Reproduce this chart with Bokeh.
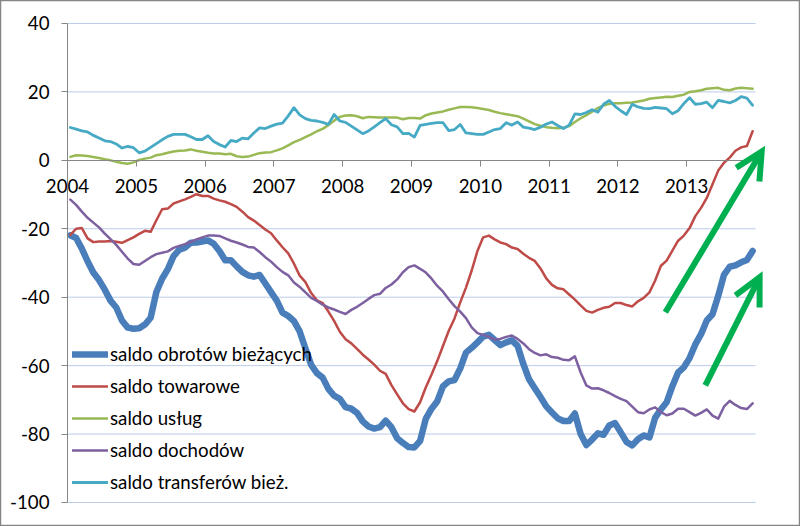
import numpy as np
from bokeh.plotting import figure
from bokeh.models import (Range1d, LinearAxis, FixedTicker, Legend, LegendItem,
                          Arrow, OpenHead, ColumnDataSource)
from bokeh.embed import file_html
from bokeh.resources import INLINE

# ---------------- data ----------------
first_year = 2004
n_months = 120
year_ticks = [2004, 2005, 2006, 2007, 2008, 2009, 2010, 2011, 2012, 2013]
y_ticks = [-100, -80, -60, -40, -20, 0, 20, 40]

saldo_obrotow_biezacych = [
    -21.9, -22.7, -25.8, -29.5, -32.8, -35.0, -37.8, -41.0, -43.0, -46.8, -48.9, -49.2,
    -49.1, -48.0, -46.0, -38.5, -34.6, -31.8, -28.0, -26.1, -25.5, -24.1, -24.0, -23.7,
    -23.4, -24.4, -26.5, -29.2, -29.2, -31.0, -32.6, -33.6, -34.0, -33.5, -36.0, -38.5,
    -41.0, -44.5, -45.5, -47.0, -50.0, -55.0, -59.8, -62.2, -63.5, -66.8, -68.8, -69.7,
    -72.1, -72.6, -73.8, -76.3, -77.8, -78.4, -78.0, -76.1, -78.0, -81.2, -82.6, -83.8,
    -83.9, -82.0, -75.5, -72.6, -70.4, -66.0, -64.6, -64.2, -60.8, -56.2, -54.8, -53.2,
    -51.5, -51.0, -52.5, -54.0, -53.2, -52.6, -54.2, -59.5, -64.0, -66.6, -69.2, -71.9,
    -73.7, -75.4, -76.2, -76.2, -74.0, -80.0, -83.2, -81.6, -79.8, -80.2, -77.5, -76.8,
    -79.5, -82.3, -83.3, -81.5, -80.4, -81.0, -75.2, -72.8, -70.7, -66.0, -62.0, -60.5,
    -57.8, -53.8, -50.8, -46.8, -45.0, -39.6, -33.5, -31.1, -30.7, -29.8, -29.1, -26.5,
]

saldo_towarowe = [
    -21.8, -20.0, -19.8, -22.8, -23.9, -23.7, -23.7, -23.6, -23.8, -24.1, -23.3, -22.5,
    -21.5, -20.6, -20.9, -17.5, -14.3, -14.1, -12.6, -12.0, -11.4, -10.7, -9.9, -10.4,
    -10.4, -11.2, -11.7, -12.1, -12.8, -13.6, -15.0, -16.6, -17.6, -18.9, -20.2, -21.3,
    -23.4, -25.4, -27.2, -30.2, -33.7, -35.6, -38.8, -40.9, -41.7, -44.2, -46.9, -50.1,
    -52.3, -53.5, -55.1, -56.8, -58.2, -59.7, -61.5, -62.4, -65.7, -68.4, -71.0, -72.7,
    -73.4, -70.7, -66.3, -62.6, -58.6, -54.2, -49.8, -46.2, -41.5, -37.2, -32.2, -26.5,
    -22.5, -22.0, -23.1, -24.0, -24.5, -25.5, -25.9, -27.3, -28.5, -29.4, -31.6, -34.5,
    -36.4, -37.4, -37.7, -39.2, -40.7, -42.4, -44.0, -44.5, -43.7, -43.1, -42.8, -41.7,
    -41.7, -42.3, -42.7, -41.2, -40.2, -38.6, -35.1, -30.8, -29.3, -26.4, -23.5, -22.0,
    -19.8, -16.3, -13.9, -11.0, -7.0, -3.0, -0.7, 0.8, 2.8, 3.8, 4.2, 8.5,
]

saldo_uslug = [
    1.0, 1.5, 1.4, 1.3, 1.0, 0.7, 0.3, 0.0, -0.4, -0.8, -1.0, -0.6,
    0.1, 0.5, 0.8, 1.5, 1.8, 2.2, 2.6, 2.8, 2.9, 3.2, 2.8, 2.5,
    2.2, 2.0, 2.0, 1.8, 1.9, 1.2, 1.0, 1.1, 1.6, 2.1, 2.3, 2.4,
    2.9, 3.5, 4.4, 5.3, 6.0, 6.8, 7.6, 8.5, 9.2, 10.3, 11.6, 12.7,
    13.1, 13.2, 12.9, 12.3, 12.7, 12.6, 12.5, 12.5, 12.5, 12.5, 12.0, 12.4,
    12.4, 12.2, 13.2, 13.7, 14.0, 14.3, 14.8, 15.2, 15.6, 15.6, 15.5, 15.3,
    15.0, 14.7, 14.2, 13.8, 13.5, 13.2, 12.9, 12.2, 11.4, 10.6, 10.1, 9.7,
    9.5, 9.4, 9.5, 10.0, 11.2, 12.3, 13.2, 14.2, 15.3, 16.0, 16.5, 16.7,
    16.7, 16.8, 16.9, 17.2, 17.5, 18.0, 18.2, 18.4, 18.6, 18.5, 18.9, 19.2,
    20.0, 20.2, 20.5, 20.9, 21.1, 21.2, 20.6, 20.5, 21.0, 21.2, 21.1, 20.9,
]

saldo_dochodow = [
    -11.5, -13.0, -15.0, -16.8, -18.2, -19.6, -21.4, -23.0, -24.7, -26.7, -28.7, -30.3,
    -30.5, -29.4, -28.3, -27.4, -27.0, -26.6, -25.6, -25.0, -24.5, -23.8, -23.1, -22.5,
    -22.0, -22.0, -22.1, -22.8, -23.5, -24.0, -24.6, -25.3, -25.5, -26.8, -28.3, -29.6,
    -31.2, -32.6, -33.6, -35.7, -37.0, -38.6, -40.2, -41.1, -42.2, -43.0, -43.6, -44.3,
    -44.9, -43.7, -42.8, -41.7, -40.5, -39.4, -39.0, -37.3, -36.3, -34.8, -32.7, -31.2,
    -30.7, -31.7, -32.8, -34.6, -36.7, -38.4, -40.6, -42.6, -44.2, -46.1, -48.8, -50.5,
    -51.0, -51.6, -52.4, -52.2, -51.6, -51.2, -52.2, -53.5, -55.2, -56.3, -57.0, -56.7,
    -57.5, -57.7, -58.3, -58.4, -57.3, -62.0, -65.8, -66.7, -66.6, -67.2, -68.0, -68.9,
    -69.7, -70.4, -72.0, -73.6, -73.9, -72.8, -72.2, -73.6, -74.5, -74.0, -72.6, -72.6,
    -73.6, -74.6, -73.8, -72.8, -74.6, -75.5, -72.0, -70.3, -71.5, -72.4, -72.7, -71.0,
]

saldo_transferow_biez = [
    9.6, 9.1, 8.6, 8.3, 7.3, 6.5, 5.7, 5.5, 4.8, 3.6, 4.1, 3.7,
    2.2, 2.7, 3.8, 4.9, 6.0, 7.0, 7.6, 7.6, 7.6, 6.9, 6.1, 6.1,
    7.2, 5.5, 4.6, 3.9, 5.8, 5.5, 6.5, 6.3, 8.0, 9.5, 9.3, 10.0,
    10.6, 10.9, 13.0, 15.4, 13.3, 12.2, 11.7, 11.5, 11.1, 10.5, 13.4, 11.5,
    11.1, 10.0, 8.9, 7.8, 8.6, 9.8, 11.0, 12.2, 10.4, 9.8, 7.8, 7.9,
    6.8, 10.2, 10.5, 10.8, 11.0, 11.0, 8.7, 9.0, 10.5, 8.0, 7.8, 7.6,
    7.6, 8.3, 9.0, 9.3, 11.0, 10.3, 11.2, 9.7, 9.4, 9.0, 9.7, 10.6,
    11.2, 10.2, 9.3, 10.3, 13.6, 13.4, 14.0, 14.8, 14.1, 16.4, 17.5, 15.8,
    14.5, 13.4, 16.4, 15.6, 15.2, 15.1, 15.5, 15.3, 15.1, 13.6, 14.5, 16.6,
    18.3, 16.4, 16.6, 17.0, 15.4, 17.5, 17.2, 16.8, 17.5, 18.6, 18.2, 16.1,
]

series_labels = ["saldo obrotów bieżących", "saldo towarowe", "saldo usług",
                 "saldo dochodów", "saldo transferów bież."]

# trend arrows (start x, start y, end x, end y) in data units
arrow_x_start = [2012.69, 2013.27]
arrow_y_start = [-44.4, -65.8]
arrow_x_end = [2014.09, 2014.06]
arrow_y_end = [2.6, -34.2]

# ---------------- styles ----------------
series_colors = ["#4A7EBB", "#BE4B48", "#98B954", "#7D60A0", "#46AAC5"]
series_widths = [6.5, 2.5, 2.5, 2.5, 2.8]
FONT = "Lato"
FS = "18.7px"
TXT = "#000000"
AXIS_GREY = "#868686"
GRID = "#BBCBE9"

x_lo, x_hi = year_ticks[0], year_ticks[-1] + 1
y_lo, y_hi = y_ticks[0], y_ticks[-1]

month_x = first_year + (np.arange(n_months) + 0.5) / 12.0

# frame covers the whole canvas; axes are placed at fixed locations inside it
p = figure(width=800, height=526, output_backend="svg", toolbar_location=None,
           x_range=Range1d(2003.026, 2014.654), y_range=Range1d(-107.02, 46.72),
           x_axis_location=None, y_axis_location=None,
           min_border=0, min_border_left=0, min_border_right=0,
           min_border_top=0, min_border_bottom=0)
p.outline_line_color = AXIS_GREY
p.outline_line_width = 1.5
p.background_fill_color = "white"
p.border_fill_color = "white"
p.xgrid.visible = False
p.ygrid.visible = False

# horizontal gridlines (except zero, which is the x axis)
grid_vals = [v for v in y_ticks if v != 0]
p.segment(x0=[x_lo] * len(grid_vals), x1=[x_hi] * len(grid_vals),
          y0=grid_vals, y1=grid_vals, line_color=GRID, line_width=1)

# y axis at 2004
ya = LinearAxis(fixed_location=x_lo, ticker=FixedTicker(ticks=y_ticks),
                bounds=(y_lo, y_hi))
ya.major_label_overrides = {v: str(v) for v in y_ticks}
ya.axis_line_color = AXIS_GREY
ya.major_tick_line_color = AXIS_GREY
ya.major_tick_out = 6
ya.major_tick_in = 0
ya.minor_tick_line_color = None
ya.major_label_text_font = FONT
ya.major_label_text_font_size = FS
ya.major_label_text_color = TXT
ya.major_label_standoff = 12
p.add_layout(ya, "left")

# x axis crossing at zero
xa = LinearAxis(fixed_location=0, ticker=FixedTicker(ticks=year_ticks),
                bounds=(x_lo, x_hi))
xa.major_label_overrides = {v: str(v) for v in year_ticks}
xa.axis_line_color = AXIS_GREY
xa.major_tick_line_color = AXIS_GREY
xa.major_tick_out = 6
xa.major_tick_in = 0
xa.minor_tick_line_color = None
xa.major_label_text_font = FONT
xa.major_label_text_font_size = FS
xa.major_label_text_color = TXT
xa.major_label_standoff = 13
p.add_layout(xa, "below")

all_series = [saldo_obrotow_biezacych, saldo_towarowe, saldo_uslug,
              saldo_dochodow, saldo_transferow_biez]
renderers = []
for vals, col, w in zip(all_series, series_colors, series_widths):
    src = ColumnDataSource(dict(x=month_x, y=vals))
    r = p.line("x", "y", source=src, line_color=col, line_width=w,
               line_join="round", line_cap="round")
    renderers.append(r)

legend = Legend(items=[LegendItem(label=lab, renderers=[r])
                       for lab, r in zip(series_labels, renderers)],
                location=(72, 33), orientation="vertical",
                label_text_font=FONT, label_text_font_size=FS,
                label_text_color=TXT, glyph_width=36, glyph_height=20,
                label_height=20, spacing=10, padding=0, margin=0,
                label_standoff=2, border_line_color=None,
                background_fill_alpha=0.0)
p.add_layout(legend)

for xs, ys, xe, ye in zip(arrow_x_start, arrow_y_start, arrow_x_end, arrow_y_end):
    p.add_layout(Arrow(x_start=xs, y_start=ys, x_end=xe, y_end=ye,
                       line_color="#00B050", line_width=6, line_cap="butt",
                       end=OpenHead(size=27, line_color="#00B050", line_width=6,
                                    line_join="miter")))

open("out.html", "w").write(file_html(p, INLINE))
